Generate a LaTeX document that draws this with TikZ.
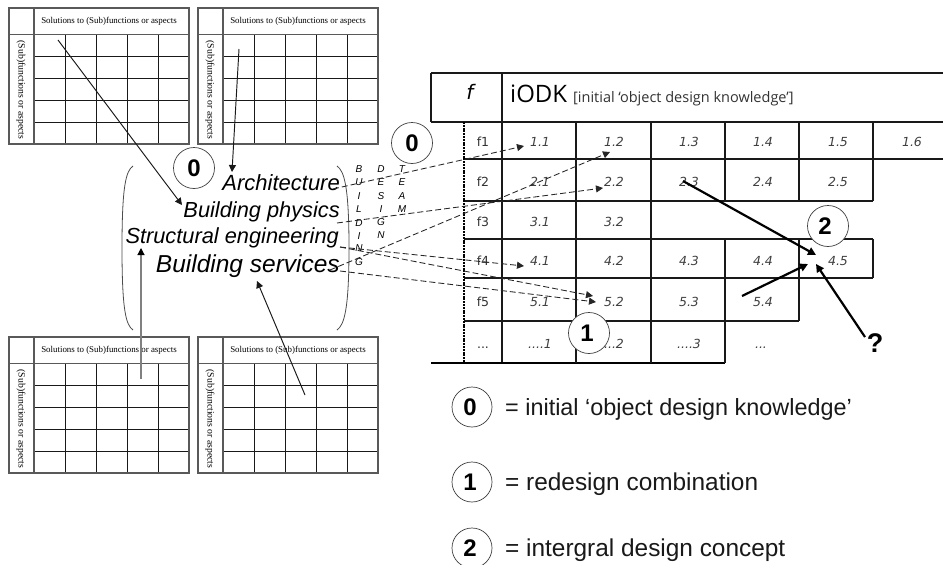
\documentclass[tikz,border=0pt]{standalone}
\usepackage{fontspec}
\setmainfont{Liberation Sans}
\newfontfamily\serifgrid{Liberation Serif}
\newfontfamily\cellfont{DejaVu Sans}
\newfontfamily\headfont{Open Sans}
\usetikzlibrary{arrows.meta}
\newcommand{\fsz}[1]{\fontsize{#1}{#1}\selectfont}
\newcommand{\dthree}{...}
\newcommand{\dfour}{....}
\tikzset{
  x=1pt,y=-1pt,
  outer/.style={draw=black!65,line width=1.1pt},
  inner/.style={draw=black!90,line width=0.85pt},
  gridhead/.style={inner sep=0,font=\serifgrid\fsz{8.9}},
  gridside/.style={inner sep=0,font=\serifgrid\fsz{9.7},rotate=-90},
  tabline/.style={draw=black!90,line width=1.1pt},
  cellitem/.style={inner sep=0,anchor=base,font=\cellfont\itshape\fsz{12.5},text=black!75},
  rowitem/.style={inner sep=0,anchor=base,font=\cellfont\fsz{12.5},text=black!80},
  discipline/.style={inner sep=0,anchor=base east,font=\itshape},
  vert/.style={inner sep=0,font=\itshape\fsz{10}},
  circ/.style={circle,draw=black!75,line width=0.7pt,fill=white,minimum size=41pt,inner sep=0},
  circnum/.style={inner sep=0,font=\bfseries\fsz{24}},
  legtext/.style={inner sep=0,anchor=base west,text=black!90},
  thinarrow/.style={draw=black!90,line width=0.95pt,-{Triangle[length=7pt,width=7pt]}},
  dasharrow/.style={draw=black!85,line width=0.85pt,dash pattern=on 6pt off 3pt,-{Triangle[length=7pt,width=7pt]}},
  thickarrow/.style={draw=black,line width=2.2pt,-{Triangle[length=8pt,width=8pt]}},
  bracket/.style={draw=black!70,line width=0.8pt}
}
\newcommand{\gridbox}[3]{% x, ytop, name
  \begin{scope}[shift={(#1,#2)}]
    \foreach \vx in {56,87,118,149} {\draw[inner] (\vx,26.5) -- (\vx,136);}
    \foreach \ry in {48.4,70.3,92.2,114.1} {\draw[inner] (25,\ry) -- (180,\ry);}
    \draw[outer] (0,0) rectangle (180,136);
    \draw[outer] (25,0) -- (25,136);
    \draw[outer] (0,26.5) -- (180,26.5);
    \node[gridhead] (#3h) at (100,13) {Solutions to (Sub)functions or aspects};
    \node[gridside] (#3v) at (12,82) {(Sub)functions or aspects};
  \end{scope}
}
\begin{document}
\begin{tikzpicture}
\useasboundingbox (0,0) rectangle (943,565);
\fill[white] (0,0) rectangle (943,565);
% small grids
\gridbox{9}{8}{ga}
\gridbox{198}{8}{gb}
\gridbox{9}{337}{gc}
\gridbox{198}{337}{gd}
% brackets
\draw[bracket] (133,166) .. controls (126,171) and (122,185) .. (122,248) .. controls (122,311) and (126,325) .. (133,330);
\draw[bracket] (337,166) .. controls (344,171) and (349,185) .. (349,248) .. controls (349,311) and (344,325) .. (337,330);
% discipline labels
\node[discipline,font=\itshape\fsz{22}] (arch) at (340,190) {Architecture};
\node[discipline,font=\itshape\fsz{21.8}] (phys) at (340,217) {Building physics};
\node[discipline,font=\itshape\fsz{21.8}] (stru) at (339,243) {Structural engineering};
\node[discipline,font=\itshape\fsz{24.5}] (serv) at (340,272) {Building services};
% vertical words
\foreach \ch/\yy/\nm in {B/169/a,U/182/b,I/196/c,L/209/d,D/223/e,I/236/f,N/248/g,G/262/h}
  \node[vert] (bu\nm) at (359,\yy) {\ch};
\foreach \ch/\yy/\nm in {D/169/a,E/182/b,S/196/c,I/209/d,G/222/e,N/235/f}
  \node[vert] (de\nm) at (381,\yy) {\ch};
\foreach \ch/\yy/\nm in {T/169/a,E/182/b,A/196/c,M/209/d}
  \node[vert] (te\nm) at (402,\yy) {\ch};
% big table
\draw[tabline] (431,73) -- (943,73);
\draw[tabline] (431,122) -- (943,122);
\draw[tabline] (431,73) -- (431,122);
\draw[tabline] (502,73) -- (502,363);
\draw[tabline] (464,159) -- (943,159);
\draw[tabline] (464,201) -- (873,201);
\draw[tabline] (464,239) -- (873,239);
\draw[tabline] (464,278) -- (873,278);
\draw[tabline] (464,321) -- (799,321);
\draw[draw=black,line width=1.3pt] (431,363) -- (725,363);
\draw[tabline] (576,122) -- (576,363);
\draw[tabline] (651,122) -- (651,363);
\draw[tabline] (725,122) -- (725,201);
\draw[tabline] (725,239) -- (725,363);
\draw[tabline] (799,122) -- (799,201);
\draw[tabline] (799,239) -- (799,321);
\draw[tabline] (873,122) -- (873,201);
\draw[tabline] (873,239) -- (873,278);
\draw[draw=black,line width=1.2pt,dash pattern=on 2pt off 0.8pt] (464,122) -- (464,363);
\node[inner sep=0,font=\cellfont\itshape\fsz{20}] (fhead) at (470,92) {f};
\node[inner sep=0,anchor=base west,font=\headfont\fsz{24}] (iodk) at (510,102) {iODK};
\node[inner sep=0,anchor=base west,font=\headfont\fsz{14.5},text=black!80] (iodkb) at (573,102) {[initial ‘object design knowledge’]};
\foreach \t/\yy/\nm in {f1/146/a,f2/186/b,f3/226/c,f4/265/d,f5/306/e,\dthree/348/f}
  \node[rowitem] (row\nm) at (483,\yy) {\t};
\foreach \t/\xx/\yy/\nm in {
  1.1/540/146/aa,1.2/614/146/ab,1.3/689/146/ac,1.4/763/146/ad,1.5/838/146/ae,1.6/912/146/af,
  2.1/540/186/ba,2.2/614/186/bb,2.3/689/186/bc,2.4/763/186/bd,2.5/838/186/be,
  3.1/540/226/ca,3.2/614/226/cb,
  4.1/540/265/da,4.2/614/265/db,4.3/689/265/dc,4.4/763/265/dd,4.5/838/265/de,
  5.1/540/306/ea,5.2/614/306/eb,5.3/689/306/ec,5.4/763/306/ed,
  \dfour 1/540/348/fa,\dfour 2/612/348/fb,\dfour 3/689/348/fc,\dthree/761/348/fd}
  \node[cellitem] (c\nm) at (\xx,\yy) {\t};
% circles
\node[circ] (ca) at (194,168) {};
\node[circnum] (cat) at (194,168) {0};
\node[circ] (cb) at (412,143) {};
\node[circnum] (cbt) at (412,143) {0};
\node[circ] (cc) at (589,333) {};
\node[circnum] (cct) at (587,333) {1};
\node[circ] (cd) at (828,226) {};
\node[circnum] (cdt) at (825,226) {2};
% arrow ends
\coordinate (s1) at (58,40);   \coordinate (e1) at (182,205);
\coordinate (s2) at (239,49);  \coordinate (e2) at (232,172);
\coordinate (s3) at (141,379); \coordinate (e3) at (141,248);
\coordinate (s4) at (305,395); \coordinate (e4) at (257,281);
\coordinate (d1s) at (333,189); \coordinate (d1e) at (524,146);
\coordinate (d2s) at (337,223); \coordinate (d2e) at (603,188);
\coordinate (d3s) at (330,270); \coordinate (d3e) at (610,152);
\coordinate (d4s) at (340,247); \coordinate (d4e) at (524,266);
\coordinate (d5e) at (593,296);
\coordinate (d6s) at (340,271); \coordinate (d6e) at (596,302);
\coordinate (t1s) at (683,181); \coordinate (t1e) at (816,255);
\coordinate (t2s) at (742,296); \coordinate (t2e) at (808,264);
\coordinate (t3s) at (865,337); \coordinate (t3e) at (816,264);
\draw[thinarrow] (s1) -- (e1);
\draw[thinarrow] (s2) -- (e2);
\draw[thinarrow,draw=black!50,line width=1.1pt,-{Triangle[length=7pt,width=7pt,color=black]}] (s3) -- (e3);
\draw[thinarrow] (s4) -- (e4);
\draw[dasharrow] (d1s) -- (d1e);
\draw[dasharrow] (d2s) -- (d2e);
\draw[dasharrow] (d3s) -- (d3e);
\draw[dasharrow] (d4s) -- (d4e);
\draw[dasharrow] (d4s) -- (d5e);
\draw[dasharrow] (d6s) -- (d6e);
\draw[thickarrow] (t1s) -- (t1e);
\draw[thickarrow] (t2s) -- (t2e);
\draw[thickarrow] (t3s) -- (t3e);
\node[inner sep=0,font=\bfseries\fsz{27}] (qm) at (875,343) {?};
% legend
\node[circ,minimum size=40pt] (la) at (472,407) {};
\node[circnum] (lat) at (470,407) {0};
\node[legtext,font=\fsz{23.4}] (lax) at (505,415) {= initial ‘object design knowledge’};
\node[circ,minimum size=40pt] (lb) at (472,482) {};
\node[circnum] (lbt) at (470,482) {1};
\node[legtext,font=\fsz{24.4}] (lbx) at (505,490) {= redesign combination};
\node[circ,minimum size=40pt] (lc) at (472,548) {};
\node[circnum] (lct) at (470,548) {2};
\node[legtext,font=\fsz{24.4}] (lcx) at (505,556) {= intergral design concept};
\end{tikzpicture}
\end{document}
